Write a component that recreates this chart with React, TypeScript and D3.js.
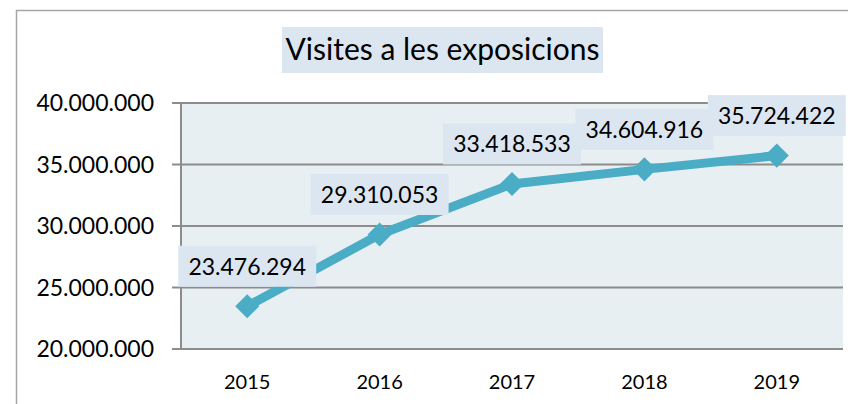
import React from "react";
import * as d3 from "d3";

const years = ["2015", "2016", "2017", "2018", "2019"];
const visits = [23476294, 29310053, 33418533, 34604916, 35724422];
const yTicks = [20000000, 25000000, 30000000, 35000000, 40000000];
const title = "Visites a les exposicions";

const FONT = "Lato, 'Open Sans', sans-serif";

const App = () => {
  const ref = React.useRef<SVGSVGElement>(null);

  React.useEffect(() => {
    const svg = d3.select(ref.current);
    svg.selectAll("*").remove();

    const left = 181, right = 843, top = 103, bottom = 349;
    const x = d3.scaleBand<string>().domain(years).range([left, right]);
    const y = d3.scaleLinear().domain([20000000, 40000000]).range([bottom, top]);
    const cx = (d: string) => (x(d) as number) + x.bandwidth() / 2;
    const fmt = d3.formatLocale({ decimal: ",", thousands: ".", grouping: [3], currency: ["", "€"] }).format(",");

    // outer frame
    svg.append("rect")
      .attr("x", 16.5).attr("y", 10.5)
      .attr("width", 900).attr("height", 500)
      .attr("fill", "none").attr("stroke", "#A6A6A6").attr("stroke-width", 1.5);

    // title
    svg.append("rect")
      .attr("x", 282).attr("y", 27).attr("width", 321).attr("height", 46)
      .attr("fill", "#DCE6F1");
    svg.append("text")
      .attr("x", 442.5).attr("y", 60)
      .attr("text-anchor", "middle")
      .attr("font-family", FONT).attr("font-size", 30)
      .attr("fill", "#000")
      .text(title);

    // plot background
    svg.append("rect")
      .attr("x", left).attr("y", top)
      .attr("width", right - left).attr("height", bottom - top)
      .attr("fill", "#E8EFF3");

    // gridlines + ticks
    const grid = svg.append("g");
    yTicks.forEach((t) => {
      grid.append("line")
        .attr("x1", left - 9).attr("x2", right)
        .attr("y1", y(t)).attr("y2", y(t))
        .attr("stroke", "#8C8C8C").attr("stroke-width", 2);
      svg.append("text")
        .attr("x", 154).attr("y", y(t))
        .attr("dy", "0.36em")
        .attr("text-anchor", "end")
        .attr("font-family", FONT).attr("font-size", 23)
        .attr("fill", "#000")
        .text(fmt(t));
    });
    grid.append("line")
      .attr("x1", left).attr("x2", left)
      .attr("y1", top).attr("y2", bottom)
      .attr("stroke", "#8C8C8C").attr("stroke-width", 2);

    // x labels
    years.forEach((yr) => {
      svg.append("text")
        .attr("x", cx(yr)).attr("y", 389)
        .attr("text-anchor", "middle")
        .attr("font-family", FONT).attr("font-size", 20)
        .attr("fill", "#000")
        .text(yr);
    });

    // line
    const line = d3.line<number>()
      .x((d, i) => cx(years[i]))
      .y((d) => y(d));
    svg.append("path")
      .attr("d", line(visits))
      .attr("fill", "none")
      .attr("stroke", "#4BACC6")
      .attr("stroke-width", 9)
      .attr("stroke-linejoin", "round");

    // markers
    const diamond = d3.symbol().type(d3.symbolSquare).size(290);
    visits.forEach((v, i) => {
      svg.append("path")
        .attr("d", diamond())
        .attr("transform", `translate(${cx(years[i])},${y(v)}) rotate(45)`)
        .attr("fill", "#4BACC6");
    });

    // data labels
    visits.forEach((v, i) => {
      const px = cx(years[i]);
      const py = y(v) - 40;
      svg.append("rect")
        .attr("x", px - 69).attr("y", py - 20.5)
        .attr("width", 138).attr("height", 41)
        .attr("fill", "#DCE6F1");
      svg.append("text")
        .attr("x", px).attr("y", py)
        .attr("dy", "0.36em")
        .attr("text-anchor", "middle")
        .attr("font-family", FONT).attr("font-size", 23)
        .attr("fill", "#000")
        .text(fmt(v));
    });
  }, []);

  return (
    <svg
      ref={ref}
      width={848}
      height={404}
      style={{ position: "absolute", left: 0, top: 0, background: "#fff" }}
    />
  );
};

export default App;
